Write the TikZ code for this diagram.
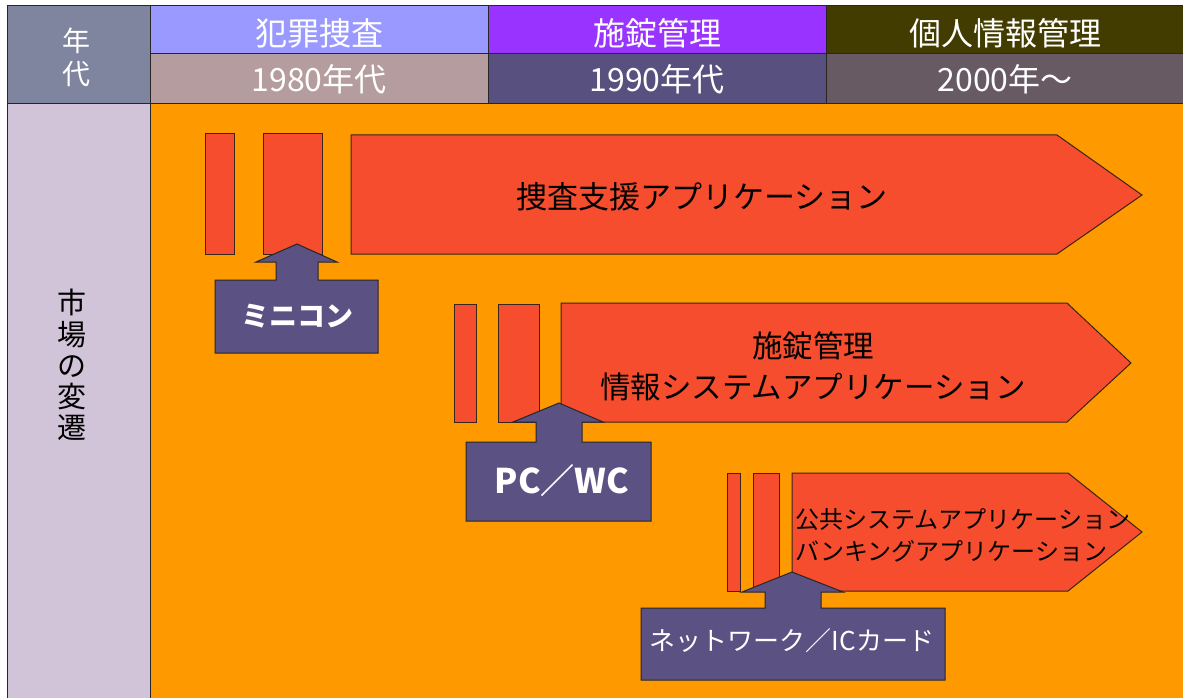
\documentclass[tikz,border=0pt]{standalone}
\usepackage{fontspec}
\setmainfont{Noto Sans CJK JP}
\definecolor{cNendai}{HTML}{80859F}
\definecolor{cH1}{HTML}{9999FF}
\definecolor{cY1}{HTML}{B59C9E}
\definecolor{cH2}{HTML}{9933FF}
\definecolor{cY2}{HTML}{58507F}
\definecolor{cH3}{HTML}{433C00}
\definecolor{cY3}{HTML}{685A62}
\definecolor{cLeft}{HTML}{D1C4D8}
\definecolor{cOrange}{HTML}{FF9900}
\definecolor{cRed}{HTML}{F54D2E}
\definecolor{cArrow}{HTML}{5B5283}
\definecolor{cEdge}{HTML}{3A2418}
\tikzset{
  cell/.style={draw=black!85, line width=1pt},
  hdrtext/.style={text=white, inner sep=0pt, font=\fontsize{32}{32}\selectfont},
  redshape/.style={draw=cEdge, fill=cRed, line width=1pt},
  upshape/.style={draw=black!85, fill=cArrow, line width=1pt},
  apptext/.style={text=black, inner sep=0pt, align=center},
}
\begin{document}
\begin{tikzpicture}[x=1pt,y=-1pt]
\useasboundingbox (0,0) rectangle (1183,698);
\fill[white] (0,0) rectangle (1183,698);
\begin{scope}
\clip (0,0) rectangle (1183,698);
% header cells
\draw[cell, fill=cNendai] (7,6) rectangle (150,104);
\draw[cell, fill=cH1] (150,6) rectangle (488,54);
\draw[cell, fill=cY1] (150,54) rectangle (488,104);
\draw[cell, fill=cH2] (488,6) rectangle (826,54);
\draw[cell, fill=cY2] (488,54) rectangle (826,104);
\draw[cell, fill=cH3] (826,6) rectangle (1195,54);
\draw[cell, fill=cY3] (826,54) rectangle (1195,104);
\draw[cell, fill=cLeft] (7,104) rectangle (150,710);
\draw[cell, fill=cOrange] (150,104) rectangle (1195,710);
\end{scope}
% header texts
\node[hdrtext, align=center, font=\fontsize{28}{33}\selectfont] (nendai) at (76,57) {年\\代};
\node[hdrtext] (h1) at (319,33) {犯罪捜査};
\node[hdrtext] (y1) at (319,79) {1980年代};
\node[hdrtext] (h2) at (657,33) {施錠管理};
\node[hdrtext] (y2) at (657,79) {1990年代};
\node[hdrtext] (h3) at (1005,33) {個人情報管理};
\node[hdrtext] (y3) at (1005,79) {2000年～};
\node[apptext, font=\fontsize{29}{31.2}\selectfont] (market) at (72,365) {市\\場\\の\\変\\遷};
% row 1
\draw[redshape] (205,134) rectangle (234,254);
\draw[redshape] (263,134) rectangle (322,254);
\draw[redshape] (351,135) -- (1057,135) -- (1142,195) -- (1057,254) -- (351,254) -- cycle;
\draw[upshape] (215,280) -- (276,280) -- (276,262) -- (256,262) -- (297,244) -- (337,262) -- (318,262) -- (318,280) -- (378,280) -- (378,353) -- (215,353) -- cycle;
% row 2
\draw[redshape] (454,304) rectangle (476,422);
\draw[redshape] (498,304) rectangle (539,422);
\draw[redshape] (561,303) -- (1067,303) -- (1131,363) -- (1067,422) -- (561,422) -- cycle;
\draw[upshape] (466,442) -- (536,442) -- (536,422) -- (513,422) -- (559,403) -- (603,422) -- (582,422) -- (582,442) -- (651,442) -- (651,521) -- (466,521) -- cycle;
% row 3
\draw[redshape] (727,473) rectangle (740,591);
\draw[redshape] (753,473) rectangle (779,591);
\draw[redshape] (792,473) -- (1068,473) -- (1142,532) -- (1068,591) -- (792,591) -- cycle;
\draw[upshape] (641,608) -- (765,608) -- (765,592) -- (742,592) -- (792,572) -- (843,592) -- (821,592) -- (821,608) -- (945,608) -- (945,680) -- (641,680) -- cycle;
% texts
\node[apptext, font=\fontsize{31}{31}\selectfont] (app1) at (702,197) {捜査支援アプリケーション};
\node[apptext, font=\fontsize{30.5}{41}\selectfont] (app2) at (813,366) {施錠管理\\情報システムアプリケーション};
\node[apptext, align=left, anchor=west, font=\fontsize{24}{32}\selectfont] (app3) at (795,535) {公共システムアプリケーション\\バンキングアプリケーション};
\node[text=white, inner sep=0pt, font=\bfseries\fontsize{28}{28}\selectfont] (mini) at (297,316) {ミニコン};
\node[text=white, inner sep=0pt, font=\bfseries\fontsize{34}{34}\selectfont] (pc) at (562,481) {PC／WC};
\node[text=white, inner sep=0pt, font=\fontsize{26}{26}\selectfont] (net) at (792,641) {ネットワーク／ICカード};
\end{tikzpicture}
\end{document}
